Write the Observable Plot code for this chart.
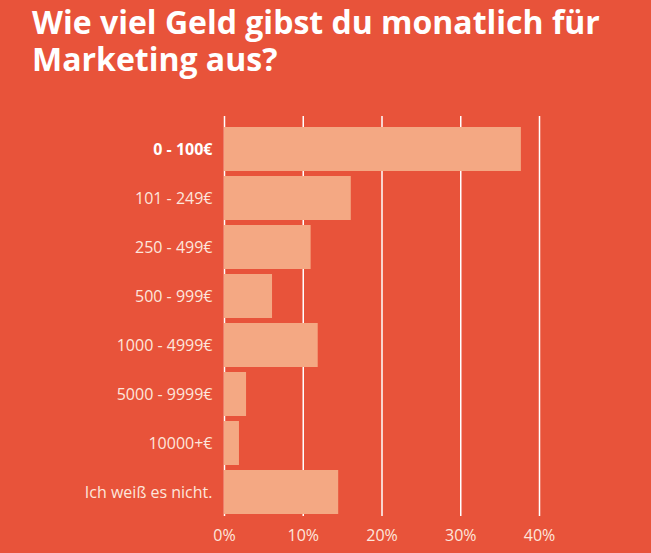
<!DOCTYPE html>
<html><head><meta charset="utf-8">
<script src="https://cdn.jsdelivr.net/npm/d3@7"></script>
<script src="https://cdn.jsdelivr.net/npm/@observablehq/plot@0.6"></script>
<style>
html,body{margin:0;padding:0;background:#E8533A;width:651px;height:553px;overflow:hidden;}
#title{height:100px;box-sizing:border-box;padding:3px 0 0 32px;font-family:"Open Sans",sans-serif;font-weight:700;font-size:32px;line-height:37px;color:#fff;}
#chart svg{display:block;}
</style></head>
<body>
<div id="title">Wie viel Geld gibst du monatlich für<br>Marketing aus?</div>
<div id="chart"></div>
<script>
const categories = ["0 - 100€","101 - 249€","250 - 499€","500 - 999€","1000 - 4999€","5000 - 9999€","10000+€","Ich weiß es nicht."];
const values = [37.7, 16.1, 11.0, 6.1, 11.9, 2.8, 1.9, 14.5];
const xTicks = [0, 10, 20, 30, 40];
const data = categories.map((c, i) => ({category: c, value: values[i]}));

const chart = Plot.plot({
  width: 651,
  height: 453,
  marginTop: 21,
  marginBottom: 33,
  marginLeft: 224,
  marginRight: 112,
  style: {background: "transparent", fontFamily: "Open Sans, sans-serif"},
  x: {domain: [0, 40], axis: null, label: null},
  y: {domain: categories, padding: 0.093, axis: null, label: null},
  marks: [
    Plot.ruleX(xTicks, {stroke: "#ffffff", strokeWidth: 1.5, insetTop: -5, insetBottom: 4}),
    Plot.barX(data, {x: "value", y: "category", fill: "#F4A883"}),
    Plot.axisX({ticks: xTicks, tickFormat: d => d + "%", tickSize: 0, tickPadding: 9, fontSize: 16, fill: "#fde6dc", label: null}),
    Plot.axisY({ticks: categories.slice(1), tickSize: 0, tickPadding: 12, fontSize: 16, fill: "#fde6dc", label: null}),
    Plot.axisY({ticks: categories.slice(0, 1), tickSize: 0, tickPadding: 12, fontSize: 16, fontWeight: "bold", fill: "#ffffff", label: null})
  ]
});
document.getElementById("chart").appendChild(chart);
</script>
</body></html>
